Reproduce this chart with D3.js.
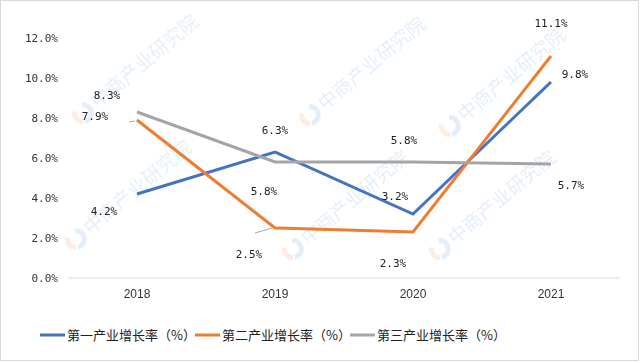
<!DOCTYPE html>
<html lang="zh">
<head>
<meta charset="utf-8">
<title>三次产业增长率</title>
<script src="https://cdn.jsdelivr.net/npm/d3@7"></script>
<style>
  body { margin: 0; background: #fff; }
  svg text { font-family: "DejaVu Sans Mono", monospace; }
</style>
</head>
<body>
<script>
// data
var years = ["2018", "2019", "2020", "2021"];
var primary = [4.2, 6.3, 3.2, 9.8];
var secondary = [7.9, 2.5, 2.3, 11.1];
var tertiary = [8.3, 5.8, 5.8, 5.7];
var seriesNames = ["第一产业增长率（%）", "第二产业增长率（%）", "第三产业增长率（%）"];
var yTicks = [0, 2, 4, 6, 8, 10, 12];

var w = 640, h = 363;
var colors = ["#4472C4", "#ED7D31", "#A5A5A5"];

var svg = d3.select("body").append("svg")
  .attr("width", w).attr("height", h);

svg.append("rect")
  .attr("x", 0.5).attr("y", 0.5)
  .attr("width", w - 2).attr("height", h - 3)
  .attr("fill", "#fff").attr("stroke", "#d9d9d9");

var x = d3.scaleBand().domain(years).range([68, 620]);
var y = d3.scaleLinear().domain([0, 12]).range([278, 38]);

// watermark (faint, kept inside the frame)
var wm = svg.append("g").attr("opacity", 0.13);
[[95, 112], [322, 114], [462, 125], [88, 238], [305, 248], [452, 248]].forEach(function(p) {
  var g = wm.append("g").attr("transform", "translate(" + p[0] + "," + p[1] + ") rotate(-40)");
  g.append("path")
    .attr("d", d3.arc()({ innerRadius: 6, outerRadius: 11, startAngle: 0.6, endAngle: 3.6 }))
    .attr("transform", "translate(-10,-7)")
    .attr("fill", "#2f7fd0");
  g.append("path")
    .attr("d", d3.arc()({ innerRadius: 6, outerRadius: 11, startAngle: 3.8, endAngle: 5.6 }))
    .attr("transform", "translate(-10,-7)")
    .attr("fill", "#f07030");
  g.append("text").attr("x", 4).attr("y", 0)
    .attr("fill", "#2f7fd0")
    .style("font-family", "Noto Sans CJK SC").style("font-size", "19px")
    .text("中商产业研究院");
});

// y axis labels
svg.append("g").selectAll("text").data(yTicks).enter().append("text")
  .attr("x", 58).attr("y", function(d) { return y(d) + 4; })
  .attr("text-anchor", "end")
  .style("font-size", "11px").attr("fill", "#333")
  .text(function(d) { return d.toFixed(1) + "%"; });

// baseline
svg.append("line")
  .attr("x1", 68).attr("x2", 620)
  .attr("y1", y(0)).attr("y2", y(0))
  .attr("stroke", "#d9d9d9");

// x labels
svg.append("g").selectAll("text").data(years).enter().append("text")
  .attr("x", function(d) { return x(d) + x.bandwidth() / 2; })
  .attr("y", 298)
  .attr("text-anchor", "middle")
  .style("font-family", "Liberation Sans").style("font-size", "12px").attr("fill", "#333")
  .text(function(d) { return d; });

var line = d3.line()
  .x(function(d, i) { return x(years[i]) + x.bandwidth() / 2; })
  .y(function(d) { return y(d); });

var allSeries = [primary, secondary, tertiary];
allSeries.forEach(function(s, k) {
  svg.append("path").datum(s)
    .attr("d", line)
    .attr("fill", "none")
    .attr("stroke", colors[k])
    .attr("stroke-width", 3);
});

// data labels: offsets [dx, dy] relative to point
var offsets = [
  [[-33, 17], [0, -22], [-18, -18], [24, -8]],
  [[-42, -4], [-26, 26], [-20, 31], [0, -33]],
  [[-30, -17], [-11, 29], [-9, -22], [20, 21]]
];
allSeries.forEach(function(s, k) {
  svg.append("g").selectAll("text").data(s).enter().append("text")
    .attr("x", function(d, i) { return x(years[i]) + x.bandwidth() / 2 + offsets[k][i][0]; })
    .attr("y", function(d, i) { return y(d) + offsets[k][i][1] + 4; })
    .attr("text-anchor", "middle")
    .style("font-size", "11px").attr("fill", "#222")
    .text(function(d) { return d.toFixed(1) + "%"; });
});

// leader lines
svg.append("line")
  .attr("x1", x("2018") + x.bandwidth() / 2 - 8).attr("y1", y(7.9) + 2)
  .attr("x2", x("2018") + x.bandwidth() / 2 - 2).attr("y2", y(7.9) + 1)
  .attr("stroke", "#a5a5a5");
svg.append("line")
  .attr("x1", x("2019") + x.bandwidth() / 2 - 20).attr("y1", y(2.5) + 5)
  .attr("x2", x("2019") + x.bandwidth() / 2 - 3).attr("y2", y(2.5))
  .attr("stroke", "#a5a5a5");

// legend
var legendX = [40, 195, 350];
var lg = svg.append("g").selectAll("g").data(seriesNames).enter().append("g")
  .attr("transform", function(d, i) { return "translate(" + legendX[i] + ",335)"; });
lg.append("line").attr("x1", 0).attr("x2", 25).attr("y1", 0).attr("y2", 0)
  .attr("stroke", function(d, i) { return colors[i]; }).attr("stroke-width", 3);
lg.append("text").attr("x", 27).attr("y", 5)
  .style("font-family", "Noto Sans CJK SC").style("font-size", "13px").attr("fill", "#222")
  .text(function(d) { return d; });
</script>
</body>
</html>
